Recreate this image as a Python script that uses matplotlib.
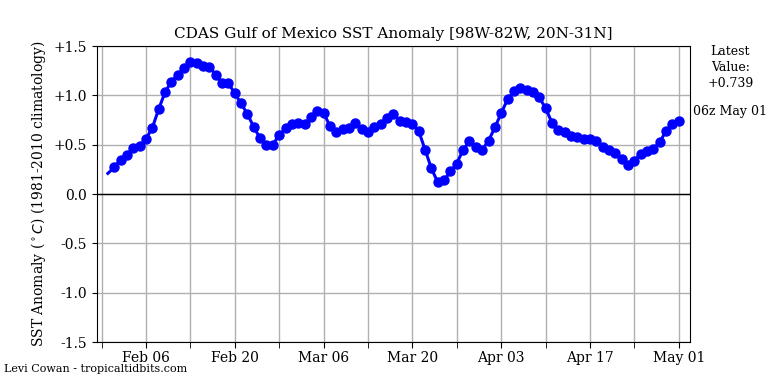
import matplotlib
matplotlib.use("Agg")
import matplotlib.pyplot as plt
import datetime as dt

plt.rcParams['font.family'] = ['DejaVu Serif']

start_date = "2025-01-31"
anomaly = [
    0.21,  # Jan 31
    0.27, 0.35, 0.40, 0.47, 0.49, 0.56, 0.67, 0.86, 1.03, 1.14,   # Feb 1-10
    1.21, 1.28, 1.34, 1.33, 1.30, 1.29, 1.21, 1.125, 1.125, 1.02, # Feb 11-20
    0.92, 0.81, 0.68, 0.565, 0.50, 0.50, 0.60, 0.665,             # Feb 21-28
    0.71, 0.725, 0.71, 0.78, 0.845, 0.825, 0.69, 0.625, 0.655, 0.665,  # Mar 1-10
    0.72, 0.655, 0.625, 0.675, 0.71, 0.775, 0.81, 0.745, 0.735, 0.71,  # Mar 11-20
    0.64, 0.45, 0.26, 0.12, 0.14, 0.23, 0.31, 0.45, 0.535, 0.48, 0.45, # Mar 21-31
    0.54, 0.675, 0.82, 0.96, 1.04, 1.08, 1.06, 1.03, 0.98, 0.87,  # Apr 1-10
    0.725, 0.65, 0.63, 0.59, 0.575, 0.555, 0.555, 0.54, 0.48, 0.45, # Apr 11-20
    0.42, 0.355, 0.30, 0.34, 0.41, 0.435, 0.46, 0.53, 0.64, 0.715,  # Apr 21-30
    0.739,  # May 1
]
yticks = [1.5, 1.0, 0.5, 0.0, -0.5, -1.0, -1.5]
ytick_labels = ["+1.5", "+1.0", "+0.5", "0.0", "-0.5", "-1.0", "-1.5"]
title = "CDAS Gulf of Mexico SST Anomaly [98W-82W, 20N-31N]"
latest_text = "Latest\nValue:\n+0.739"
time_text = "06z May 01"
credit = "Levi Cowan - tropicaltidbits.com"

d0 = dt.datetime.fromisoformat(start_date)
dates = [d0 + dt.timedelta(days=i) for i in range(len(anomaly))]

fig = plt.figure(figsize=(7.68, 3.84), dpi=100)
ax = fig.add_axes([0.126, 0.109, 0.772, 0.771])

ax.plot(dates, anomaly, color='blue', lw=2.2, marker='o', ms=6.5,
        markevery=slice(1, None), zorder=3)
ax.axhline(0, color='black', lw=1, zorder=2)

ax.set_ylim(-1.5, 1.5)
ax.set_yticks(yticks)
ax.set_yticklabels(ytick_labels, fontsize=10)
ax.set_xlim(dt.datetime(2025, 1, 29, 6), dt.datetime(2025, 5, 2, 17))

major_days = [dt.datetime(2025, 2, 6) + dt.timedelta(days=14 * k) for k in range(7)]
minor_days = [dt.datetime(2025, 1, 30) + dt.timedelta(days=14 * k) for k in range(7)]
ax.set_xticks(major_days)
ax.set_xticklabels([d.strftime("%b %d") for d in major_days], fontsize=10)
ax.set_xticks(minor_days, minor=True)
ax.tick_params(axis='x', which='both', length=4, direction='out', pad=2.5)
ax.grid(True, which='both', color='#b0b0b0', lw=1)
ax.set_axisbelow(True)

ax.set_title(title, fontsize=11)
ax.set_ylabel(r"SST Anomaly ($^\circ C$) (1981-2010 climatology)", fontsize=10)

fig.text(0.951, 1 - 45 / 384, latest_text, ha='center', va='top', fontsize=9,
         linespacing=1.3)
fig.text(0.951, 1 - 111 / 384, time_text, ha='center', va='center', fontsize=9)
fig.text(0.005, 1 - 369 / 384, credit, ha='left', va='center', fontsize=8)

fig.savefig("out.png", dpi=100)
